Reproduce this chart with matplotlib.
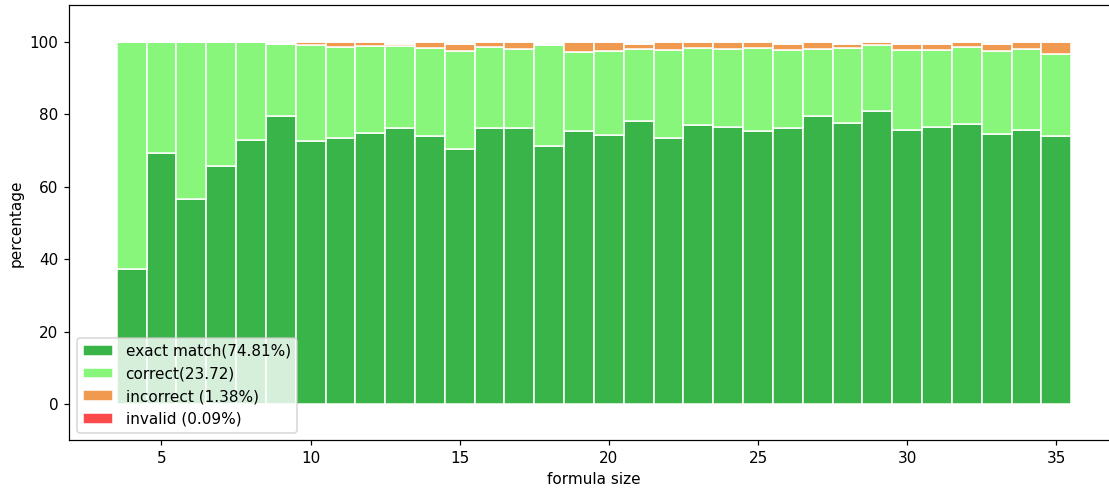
import numpy as np
import matplotlib
matplotlib.use('Agg')
import matplotlib.pyplot as plt

# formula size on the x axis
sizes = list(range(4, 36))

# percentages per formula size
exact = [37.4, 69.4, 56.5, 65.6, 72.9, 79.5, 72.5, 73.4, 74.9, 76.2,
         74.0, 70.4, 76.1, 76.1, 71.2, 75.3, 74.3, 78.1, 73.4, 77.1,
         76.5, 75.5, 76.2, 79.5, 77.7, 81.0, 75.7, 76.4, 77.3, 74.6,
         75.6, 74.1]
correct_top = [100.0, 100.0, 100.0, 100.0, 100.0, 99.5, 99.2, 98.6, 98.9, 98.9,
               98.3, 97.5, 98.5, 98.1, 99.2, 97.1, 97.3, 97.9, 97.6, 98.2,
               98.1, 98.3, 97.8, 98.1, 98.4, 99.2, 97.7, 97.7, 98.5, 97.3,
               98.1, 96.7]
total_top = [100.0, 100.0, 100.0, 100.0, 100.0, 99.5, 99.9, 99.8, 99.9, 99.5,
             99.9, 99.5, 99.9, 99.9, 99.2, 99.9, 99.9, 99.5, 99.9, 99.9,
             99.9, 99.9, 99.5, 99.9, 99.5, 99.9, 99.5, 99.5, 99.9, 99.5,
             99.9, 99.9]
invalid = [0.0] * len(sizes)

correct = [c - e for c, e in zip(correct_top, exact)]
incorrect = [t - c for t, c in zip(total_top, correct_top)]

labels = ['exact match(74.81%)', 'correct(23.72)', 'incorrect (1.38%)', 'invalid (0.09%)']
colors = ['#39b449', '#87f67b', '#ef9a4e', '#fb4a4a']

DPI = 110
fig = plt.figure(figsize=(1109 / DPI, 491 / DPI), dpi=DPI)
ax = fig.add_axes([0.0622, 0.1029, 0.9468, 0.886])

bottom = np.zeros(len(sizes))
for vals, lab, col in zip([exact, correct, incorrect, invalid], labels, colors):
    ax.bar(sizes, vals, width=1.0, bottom=bottom, color=col, edgecolor='white',
           linewidth=1, label=lab)
    bottom += np.array(vals)

ax.set_xlim(1.9, 37.1)
ax.set_ylim(-10, 110)
ax.set_xlabel('formula size')
ax.set_ylabel('percentage')
ax.legend(loc='lower left')

plt.savefig('out.png', dpi=DPI)
